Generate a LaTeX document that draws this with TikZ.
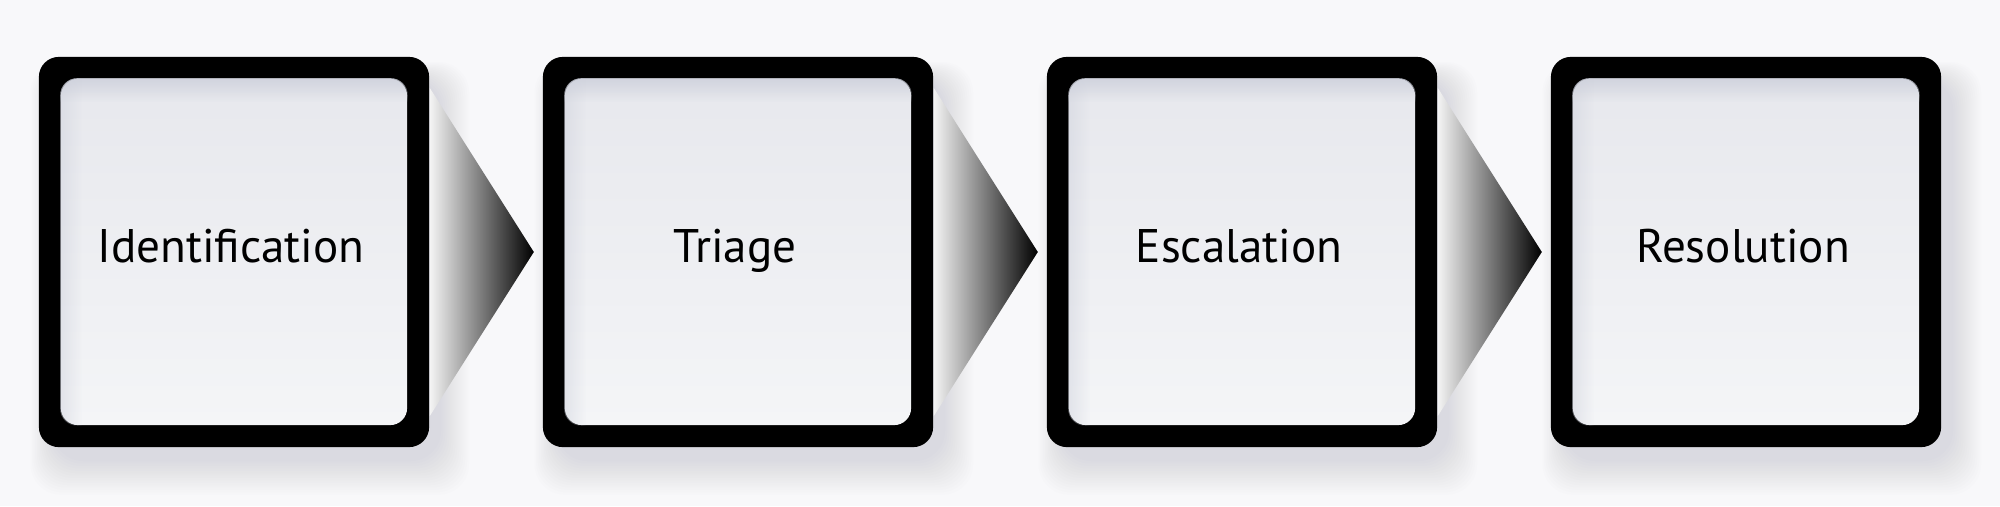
\documentclass[tikz,border=0pt]{standalone}
\usepackage{fontspec}
\setmainfont{PT Sans}
\usetikzlibrary{calc,fadings}
\definecolor{bgc}{HTML}{F8F8FA}
\definecolor{innertop}{HTML}{E7E8ED}
\definecolor{innerbot}{HTML}{F4F5F7}
\definecolor{innershade}{HTML}{CDD0DB}
\definecolor{shadowc}{HTML}{8A90A8}
\definecolor{arrowl}{HTML}{F4F4F4}
\tikzset{
  outerbox/.style={fill=black, rounded corners=0.2cm, minimum width=3.9cm, minimum height=3.9cm, inner sep=0pt},
  innerbox/.style={top color=innertop, bottom color=innerbot, rounded corners=0.17cm, minimum width=3.46cm, minimum height=3.46cm, inner sep=0pt},
  lbl/.style={font=\fontsize{13.4}{16}\selectfont, text=black, inner sep=0pt, anchor=base},
  shadowlayer/.style={fill=shadowc, opacity=0.016, rounded corners=0.3cm},
  arrowshade/.style={left color=arrowl, right color=black}
}
\begin{document}
\begin{tikzpicture}[x=0.01cm,y=-0.01cm]
\fill[bgc] (0,0) rectangle (2000,506);
\useasboundingbox (0,0) rectangle (2000,506);
% soft drop shadows
\foreach \cx in {234,738,1242,1746}{
  \foreach \i in {0,...,14}{
    \fill[shadowlayer] (\cx-195+14-\i*1.6, 57+22-\i*1.2) rectangle (\cx+195+12+\i*2.0, 447+14+\i*2.4);
  }
}
% boxes
\foreach \cx/\n/\txt in {234/1/Identification, 738/2/Triage, 1242/3/Escalation, 1746/4/Resolution}{
  \node[outerbox] (b\n) at (\cx,252) {};
  \node[innerbox] (i\n) at (\cx,252) {};
  \begin{scope}
    \clip[rounded corners=0.17cm] (i\n.south west) rectangle (i\n.north east);
    \fill[innershade, opacity=0.9, path fading=south] ($(i\n.north west)+(-2,-2)$) rectangle ($(i\n.north east)+(2,24)$);
    \fill[innershade, opacity=0.5, path fading=east] ($(i\n.north west)+(-2,-2)$) rectangle ($(i\n.south west)+(22,2)$);
  \end{scope}
  \node[lbl] (t\n) at (\cx-3,262) {\txt};
}
% gradient arrows between boxes
\foreach \a/\b in {1/2,2/3,3/4}{
  \shade[arrowshade] ($(b\a.east)+(0,-164)$) -- ($(b\a.east)+(104,0)$) -- ($(b\a.east)+(0,164)$) -- cycle;
}
\end{tikzpicture}
\end{document}
